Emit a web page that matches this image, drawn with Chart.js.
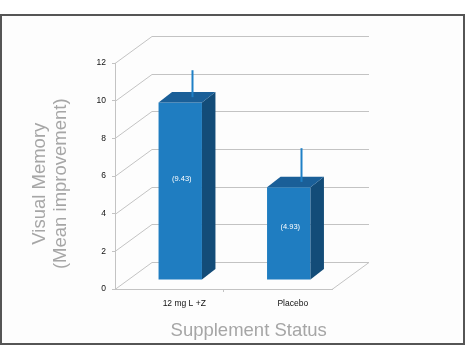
<!DOCTYPE html>
<html><head><meta charset="utf-8">
<script src="https://cdn.jsdelivr.net/npm/chart.js@4.4.0/dist/chart.umd.min.js"></script>
<style>
html,body{margin:0;padding:0;background:#fff;}
#wrap{position:relative;width:465px;height:355px;overflow:hidden;}
#frame{position:absolute;left:0;top:14px;width:465px;height:331px;box-sizing:border-box;border:2px solid #555;background:#fdfdfd;}
#c{position:absolute;left:0;top:0;width:465px;height:355px;}
</style></head><body>
<div id="wrap"><div id="frame"></div><canvas id="c" width="465" height="355"></canvas></div>
<script>
// ---- data ----
const categories = ['12 mg L +Z', 'Placebo'];
const meanImprovement = [9.43, 4.93];
const errorUpper = [1.43, 1.79];
const yTicks = [0, 2, 4, 6, 8, 10, 12];
const yTitle = ['Visual Memory', '(Mean improvement)'];
const xTitle = 'Supplement Status';

// ---- style ----
const FONT = "'Liberation Sans', Arial, sans-serif";
const GRID = '#c3c3c3';
const FRONT = '#1f7dc1', TOP = '#1a5f98', SIDE = '#134c78', ERR = '#1f80c6';
const WALL = {dx: 37, dy: -27};
const BAR = {ox: 11, oy: -9, dx: 13.5, dy: -10.5};

const excel3d = {
  id: 'excel3d',
  beforeDatasetsDraw(chart) {
    const {ctx, chartArea: a, scales: {y}} = chart;
    ctx.save();
    ctx.strokeStyle = GRID; ctx.lineWidth = 1;
    y.ticks.forEach(t => {
      const py = Math.round(y.getPixelForValue(t.value)) + 0.5;
      ctx.beginPath();
      ctx.moveTo(a.left, py);
      ctx.lineTo(a.left + WALL.dx, py + WALL.dy);
      ctx.lineTo(a.right + WALL.dx, py + WALL.dy);
      ctx.stroke();
    });
    const pb = Math.round(y.getPixelForValue(0)) + 0.5;
    ctx.beginPath();
    ctx.moveTo(a.right + WALL.dx, pb + WALL.dy);
    ctx.lineTo(a.right, pb);
    ctx.stroke();
    ctx.restore();
    ctx.save();
    ctx.translate(BAR.ox, BAR.oy);
  },
  afterDatasetsDraw(chart) {
    const {ctx, scales: {y}} = chart;
    ctx.restore();
    const meta = chart.getDatasetMeta(0);
    ctx.save();
    meta.data.forEach((bar, i) => {
      const p = bar.getProps(['x', 'y', 'base', 'width'], true);
      const l = p.x - p.width / 2 + BAR.ox, r = p.x + p.width / 2 + BAR.ox;
      const t = p.y + BAR.oy, b = p.base + BAR.oy;
      ctx.fillStyle = SIDE;
      ctx.beginPath();
      ctx.moveTo(r, t); ctx.lineTo(r + BAR.dx, t + BAR.dy);
      ctx.lineTo(r + BAR.dx, b + BAR.dy); ctx.lineTo(r, b);
      ctx.closePath(); ctx.fill();
      ctx.fillStyle = TOP;
      ctx.beginPath();
      ctx.moveTo(l, t); ctx.lineTo(l + BAR.dx, t + BAR.dy);
      ctx.lineTo(r + BAR.dx, t + BAR.dy); ctx.lineTo(r, t);
      ctx.closePath(); ctx.fill();
      // error bar
      const v = meanImprovement[i];
      const ex = Math.round(p.x + BAR.ox + BAR.dx / 2 + 5) + 0.5;
      const off = BAR.oy + BAR.dy / 2;
      ctx.strokeStyle = ERR; ctx.lineWidth = 2;
      ctx.beginPath();
      ctx.moveTo(ex, y.getPixelForValue(v) + off);
      ctx.lineTo(ex, y.getPixelForValue(v + errorUpper[i]) + off);
      ctx.stroke();
      // value label
      ctx.fillStyle = '#ffffff';
      ctx.font = '7.5px ' + FONT;
      ctx.textAlign = 'center'; ctx.textBaseline = 'middle';
      ctx.fillText('(' + v.toFixed(2) + ')', p.x + BAR.ox + 1.5, y.getPixelForValue(v * 0.57) + BAR.oy);
    });
    ctx.restore();
  }
};

new Chart(document.getElementById('c'), {
  type: 'bar',
  data: {
    labels: categories,
    datasets: [{
      data: meanImprovement,
      backgroundColor: FRONT,
      borderWidth: 0,
      barPercentage: 0.4,
      categoryPercentage: 1,
      clip: false
    }]
  },
  options: {
    responsive: false,
    animation: false,
    devicePixelRatio: 1,
    layout: {padding: {left: 0, top: 63, right: 133, bottom: 0}},
    plugins: {legend: {display: false}, tooltip: {enabled: false}},
    scales: {
      x: {
        offset: true,
        grid: {
          offset: true, drawOnChartArea: false, drawTicks: true, tickLength: 3,
          color: c => (c.index === 1 ? GRID : 'rgba(0,0,0,0)')
        },
        border: {display: true, color: GRID},
        ticks: {font: {family: FONT, size: 8.5}, color: '#111', padding: 7, labelOffset: 15, maxRotation: 0, autoSkip: false},
        title: {
          display: true, text: xTitle + ' ', align: 'end', color: '#a6a6a6',
          font: {family: FONT, size: 18.5, lineHeight: 1.1}, padding: {top: 0, bottom: 14}
        },
        afterFit: s => { s.height = 66; }
      },
      y: {
        min: 0, max: 12,
        afterBuildTicks: s => { s.ticks = yTicks.map(v => ({value: v})); },
        grid: {drawOnChartArea: false, drawTicks: true, tickLength: 3, color: GRID},
        border: {display: true, color: GRID},
        ticks: {font: {family: FONT, size: 8.5}, color: '#111', padding: 6},
        title: {
          display: true, text: yTitle.map(s => s + '   '), color: '#a6a6a6',
          font: {family: FONT, size: 18.5, lineHeight: 1.1}, padding: {top: 30, bottom: 0}
        },
        afterFit: s => { s.width = 115; }
      }
    }
  },
  plugins: [excel3d]
});
</script>
</body></html>
